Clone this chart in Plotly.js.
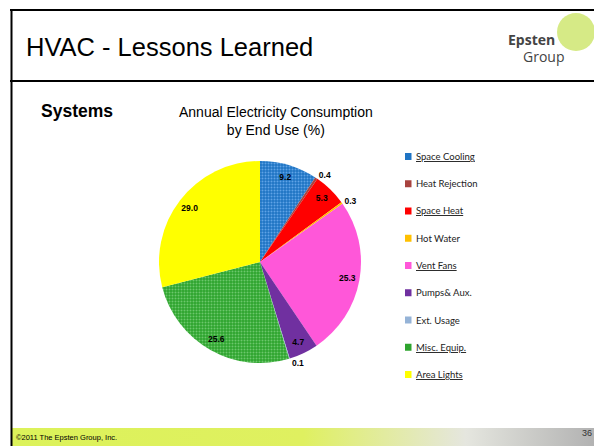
<!DOCTYPE html>
<html>
<head>
<meta charset="utf-8">
<script src="https://cdn.plot.ly/plotly-3.0.1.min.js"></script>
<style>
  html, body { margin: 0; padding: 0; background: #ffffff; }
  #chart { width: 594px; height: 446px; }
</style>
</head>
<body>
<div id="chart"></div>
<script>
// ---- data ----
var categories = ['Space Cooling', 'Heat Rejection', 'Space Heat', 'Hot Water', 'Vent Fans', 'Pumps& Aux.', 'Ext. Usage', 'Misc. Equip.', 'Area Lights'];
var shares = [9.2, 0.4, 5.3, 0.3, 25.3, 4.7, 0.1, 25.6, 29.0];
var underlined = [true, false, true, false, true, false, false, true, true];
var sliceColors = ['#1f74c4', '#a8433f', '#ff0000', '#ffc000', '#ff57d9', '#7030a0', '#95b3d7', '#2ea42e', '#ffff00'];
var patternShapes = ['.', '', '', '', '', '', '', '.', ''];
var patternFg = ['#5fa3e6', '#a8433f', '#ff0000', '#ffc000', '#ff57d9', '#7030a0', '#95b3d7', '#6cc86c', '#ffff00'];
var labelPositions = ['inside', 'outside', 'inside', 'outside', 'inside', 'inside', 'outside', 'inside', 'inside'];
var slideTitle = 'HVAC - Lessons Learned';
var sectionTitle = 'Systems';
var chartTitle = 'Annual Electricity Consumption<br>by End Use (%)';
var footerText = '\u00A92011 The Epsten Group, Inc.';
var pageNumber = '36';

// ---- helpers (pixel -> paper) ----
var W = 594, H = 446;
function X(px) { return px / W; }
function Y(py) { return 1 - py / H; }

var pieDomain = { x: [X(159), X(361)], y: [Y(363), Y(161)] };
var labelFont = { family: 'Liberation Sans, Arial, sans-serif', size: 8.5, color: '#000000', weight: 'bold' };

// filled slices
var slices = {
  type: 'pie',
  labels: categories,
  values: shares,
  sort: false,
  direction: 'clockwise',
  rotation: 0,
  textinfo: 'none',
  marker: {
    colors: sliceColors,
    line: { width: 0 },
    pattern: { shape: patternShapes, fgcolor: patternFg, bgcolor: sliceColors, size: 3, solidity: 0.35 }
  },
  hoverinfo: 'none',
  showlegend: false,
  domain: pieDomain
};

// transparent ring carrying the value labels near the outer edge (like "inside end")
var valueLabels = {
  type: 'pie',
  labels: categories,
  values: shares,
  sort: false,
  direction: 'clockwise',
  rotation: 0,
  hole: 0.76,
  texttemplate: '%{value:.1f}',
  textposition: labelPositions,
  insidetextorientation: 'horizontal',
  textfont: labelFont,
  insidetextfont: labelFont,
  outsidetextfont: labelFont,
  marker: { colors: categories.map(function () { return 'rgba(0,0,0,0)'; }), line: { width: 0 } },
  hoverinfo: 'none',
  showlegend: false,
  domain: pieDomain
};

var shapes = [
  // slide frame lines
  { type: 'line', xref: 'paper', yref: 'paper', x0: X(10), x1: X(594), y0: Y(10), y1: Y(10), line: { color: '#000', width: 2 } },
  { type: 'line', xref: 'paper', yref: 'paper', x0: X(11.5), x1: X(11.5), y0: Y(10), y1: Y(446), line: { color: '#000', width: 2 } },
  { type: 'line', xref: 'paper', yref: 'paper', x0: X(10), x1: X(594), y0: Y(81), y1: Y(81), line: { color: '#000', width: 2 } },
  // logo circle
  { type: 'circle', xref: 'paper', yref: 'paper', x0: X(557), x1: X(595), y0: Y(51), y1: Y(13), fillcolor: '#d6ea86', line: { width: 0 }, layer: 'below' }
];

var annotations = [
  { text: slideTitle, x: X(24), y: Y(47), xanchor: 'left', yanchor: 'middle', font: { family: 'Liberation Sans, Arial, sans-serif', size: 25.5, color: '#000' } },
  { text: '<b>' + sectionTitle + '</b>', x: X(39), y: Y(111), xanchor: 'left', yanchor: 'middle', font: { family: 'Liberation Sans, Arial, sans-serif', size: 17.5, color: '#000' } },
  { text: chartTitle, x: X(276), y: Y(121), xanchor: 'center', yanchor: 'middle', font: { family: 'Liberation Sans, Arial, sans-serif', size: 14, color: '#000' } },
  { text: footerText, x: X(14), y: Y(437), xanchor: 'left', yanchor: 'middle', font: { family: 'Liberation Sans, Arial, sans-serif', size: 7.5, color: '#000' } },
  { text: pageNumber, x: X(580), y: Y(433), xanchor: 'left', yanchor: 'middle', font: { family: 'Liberation Sans, Arial, sans-serif', size: 9, color: '#333' } },
  { text: '<b>Epsten</b>', x: X(531), y: Y(39), xanchor: 'center', yanchor: 'middle', font: { family: 'Open Sans, Liberation Sans, sans-serif', size: 14, color: '#444' } },
  { text: 'Group', x: X(543), y: Y(56), xanchor: 'center', yanchor: 'middle', font: { family: 'Open Sans, Liberation Sans, sans-serif', size: 14, color: '#444' } }
];

// legend built from the category arrays
for (var i = 0; i < categories.length; i++) {
  var cy = 156.5 + i * 27.25;
  shapes.push({ type: 'rect', xref: 'paper', yref: 'paper', x0: X(405), x1: X(411.5), y0: Y(cy + 3.5), y1: Y(cy - 3.5), fillcolor: sliceColors[i], line: { width: 0 } });
  annotations.push({
    text: categories[i], x: X(414), y: Y(cy), xanchor: 'left', yanchor: 'middle',
    font: { family: 'Lato, Open Sans, sans-serif', size: 9.5, color: '#222', lineposition: underlined[i] ? 'under' : 'none' }
  });
}
annotations.forEach(function (a) { a.xref = 'paper'; a.yref = 'paper'; a.showarrow = false; });

var gradSvg = "<svg xmlns='http://www.w3.org/2000/svg' width='582' height='18' preserveAspectRatio='none' viewBox='0 0 582 18'>" +
  "<defs><linearGradient id='g' x1='0' x2='1' y1='0' y2='0'>" +
  "<stop offset='0' stop-color='#dcf25a'/><stop offset='0.5' stop-color='#dff060'/>" +
  "<stop offset='0.78' stop-color='#e5e6df'/><stop offset='1' stop-color='#b2b2b2'/>" +
  "</linearGradient></defs><rect x='0' y='0' width='582' height='18' fill='url(#g)'/></svg>";

var layout = {
  width: W, height: H,
  margin: { l: 0, r: 0, t: 0, b: 0 },
  paper_bgcolor: '#ffffff',
  showlegend: false,
  shapes: shapes,
  annotations: annotations,
  images: [{
    source: 'data:image/svg+xml;charset=utf-8,' + encodeURIComponent(gradSvg),
    xref: 'paper', yref: 'paper', x: X(12), y: Y(428), sizex: X(594) - X(12), sizey: 18 / H,
    xanchor: 'left', yanchor: 'top', sizing: 'stretch', layer: 'below'
  }]
};

Plotly.newPlot('chart', [slices, valueLabels], layout, { staticPlot: true, displayModeBar: false });
</script>
</body>
</html>
